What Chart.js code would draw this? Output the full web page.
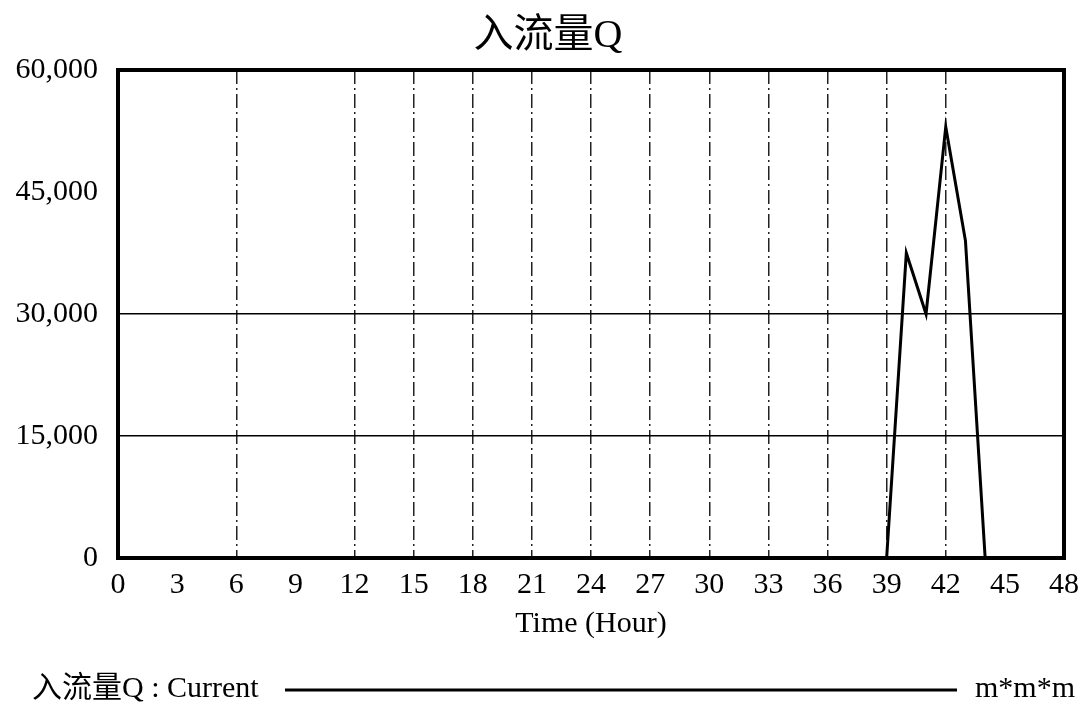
<!DOCTYPE html>
<html>
<head>
<meta charset="utf-8">
<script src="https://cdn.jsdelivr.net/npm/chart.js@4"></script>
<style>
  html, body { margin: 0; padding: 0; background: #fff; }
  #wrap { width: 1088px; height: 711px; }
</style>
</head>
<body>
<div id="wrap"><canvas id="inflowChart" width="1088" height="711"></canvas></div>
<script>
// 数据
var chartTitle = '入流量Q';
var seriesLabel = '入流量Q : Current';
var unitLabel = 'm*m*m';
var xTitle = 'Time (Hour)';
var hours = [0, 1, 2, 3, 4, 5, 6, 7, 8, 9, 10, 11, 12, 13, 14, 15, 16, 17, 18, 19, 20,
             21, 22, 23, 24, 25, 26, 27, 28, 29, 30, 31, 32, 33, 34, 35, 36, 37, 38, 39, 40,
             41, 42, 43, 44, 45, 46, 47, 48];
var inflowQ = [0, 0, 0, 0, 0, 0, 0, 0, 0, 0, 0, 0, 0, 0, 0, 0, 0, 0, 0, 0, 0,
               0, 0, 0, 0, 0, 0, 0, 0, 0, 0, 0, 0, 0, 0, 0, 0, 0, 0, 0, 37500,
               30000, 53000, 39000, 0, 0, 0, 0, 0];
var xGridHours = [6, 12, 15, 18, 21, 24, 27, 30, 33, 36, 39, 42];
var yGridValues = [15000, 30000];

var serif = '"Liberation Serif", "Noto Sans CJK SC", serif';

// 标题、边框和底部图例
var framePlugin = {
    id: 'frame',
    afterDraw: function (chart) {
        var ctx = chart.ctx;
        var a = chart.chartArea;
        ctx.save();
        ctx.fillStyle = '#000';
        ctx.strokeStyle = '#000';
        ctx.textBaseline = 'middle';

        ctx.font = '40px ' + serif;
        ctx.textAlign = 'center';
        ctx.fillText(chartTitle, 548, 36);

        ctx.lineWidth = 4;
        ctx.setLineDash([]);
        ctx.strokeRect(a.left, a.top, a.right - a.left, a.bottom - a.top);

        ctx.textAlign = 'left';
        ctx.font = '30px ' + serif;
        ctx.fillText(seriesLabel, 32, 689);
        ctx.lineWidth = 3;
        ctx.beginPath();
        ctx.moveTo(285, 690);
        ctx.lineTo(957, 690);
        ctx.stroke();
        ctx.fillText(unitLabel, 975, 689);
        ctx.restore();
    }
};

var ctx = document.getElementById('inflowChart').getContext('2d');
var chart = new Chart(ctx, {
    type: 'line',
    data: {
        datasets: [{
            label: seriesLabel,
            data: hours.map(function (h, i) { return { x: h, y: inflowQ[i] }; }),
            borderColor: '#000',
            borderWidth: 3,
            pointRadius: 0,
            tension: 0,
            fill: false
        }]
    },
    options: {
        responsive: false,
        animation: false,
        layout: { padding: { left: 0, right: 21, top: 70, bottom: 66 } },
        plugins: {
            legend: { display: false },
            tooltip: { enabled: false },
            title: { display: false }
        },
        scales: {
            x: {
                type: 'linear',
                min: 0,
                max: 48,
                afterFit: function (scale) { scale.height = 87; },
                ticks: {
                    stepSize: 3,
                    color: '#000',
                    padding: 9,
                    maxRotation: 0,
                    autoSkip: false,
                    font: { family: serif, size: 30 }
                },
                grid: {
                    drawTicks: false,
                    lineWidth: 1.5,
                    color: function (c) {
                        return c.tick && xGridHours.indexOf(c.tick.value) >= 0 ? '#222' : 'rgba(0,0,0,0)';
                    }
                },
                border: { display: false, dash: [14, 4, 2, 4] },
                title: {
                    display: true,
                    text: xTitle,
                    color: '#000',
                    font: { family: serif, size: 30 },
                    padding: { top: 0, bottom: 3 }
                }
            },
            y: {
                min: 0,
                max: 60000,
                afterFit: function (scale) { scale.width = 118; },
                ticks: {
                    stepSize: 15000,
                    color: '#000',
                    padding: 20,
                    font: { family: serif, size: 30 },
                    callback: function (v) { return v.toLocaleString('en-US'); }
                },
                grid: {
                    drawTicks: false,
                    lineWidth: 1.5,
                    color: function (c) {
                        return c.tick && yGridValues.indexOf(c.tick.value) >= 0 ? '#000' : 'rgba(0,0,0,0)';
                    }
                },
                border: { display: false }
            }
        }
    },
    plugins: [framePlugin]
});
</script>
</body>
</html>
